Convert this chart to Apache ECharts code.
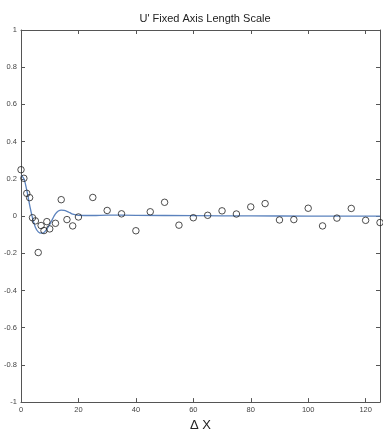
<!DOCTYPE html>
<html>
<head>
<meta charset="utf-8">
<script src="https://cdn.jsdelivr.net/npm/echarts@6/dist/echarts.min.js"></script>
<style>
  html, body { margin: 0; padding: 0; background: #fff; }
  #chart { width: 383px; height: 437px; }
</style>
</head>
<body>
<div id="chart"></div>
<script>
// Measured correlation samples (separation ΔX, correlation)
const sampleX = [0, 1, 2, 3, 4, 5, 6, 7, 8, 9, 10, 12, 14, 16, 18, 20, 25, 30, 35, 40, 45, 50, 55, 60, 65, 70, 75, 80, 85, 90, 95, 100, 105, 110, 115, 120, 125];
const sampleY = [0.249, 0.203, 0.122, 0.099, -0.009, -0.026, -0.196, -0.051, -0.078, -0.03, -0.069, -0.039, 0.088, -0.019, -0.053, -0.005, 0.1, 0.03, 0.012, -0.079, 0.023, 0.074, -0.049, -0.009, 0.004, 0.028, 0.011, 0.049, 0.067, -0.021, -0.019, 0.042, -0.053, -0.011, 0.041, -0.023, -0.035];

// Fitted length-scale curve
const fitX = [0, 1, 2, 3, 4, 5, 6, 7, 8, 9, 10, 11, 12, 13, 14, 15, 16, 17, 18, 20, 25, 30, 40, 60, 80, 100, 125];
const fitY = [0.22, 0.2, 0.14, 0.06, -0.01, -0.06, -0.085, -0.092, -0.088, -0.07, -0.045, -0.015, 0.012, 0.027, 0.032, 0.03, 0.025, 0.018, 0.01, 0.004, 0.003, 0.005, 0.004, 0.002, 0.001, 0, 0];

const xTicks = [0, 20, 40, 60, 80, 100, 120];
const yTicks = [-1, -0.8, -0.6, -0.4, -0.2, 0, 0.2, 0.4, 0.6, 0.8, 1];

const frame = { lineStyle: { color: '#555', width: 1 } };
const inTicks = { show: true, inside: true, length: 4, lineStyle: { color: '#555' } };
const labelStyle = { color: '#444', fontSize: 7.5, fontFamily: 'Liberation Sans, Arial, sans-serif' };

const chart = echarts.init(document.getElementById('chart'));
chart.setOption({
  backgroundColor: '#ffffff',
  animation: false,
  title: {
    text: "U' Fixed Axis Length Scale",
    left: 200, top: 8, textAlign: 'center',
    textStyle: { fontSize: 11, fontWeight: 'normal', color: '#222', fontFamily: 'Liberation Sans, Arial, sans-serif' }
  },
  grid: { left: 21, right: 3, top: 30, bottom: 29, containLabel: false },
  xAxis: [
    {
      type: 'value', min: 0, max: 125, interval: 20, position: 'bottom',
      name: 'Δ X', nameLocation: 'middle', nameGap: 14,
      nameTextStyle: { fontSize: 13, color: '#222', fontFamily: 'Liberation Sans, Arial, sans-serif' },
      axisLine: Object.assign({ show: true, onZero: false }, frame),
      axisTick: inTicks,
      axisLabel: Object.assign({ margin: 4, showMaxLabel: false }, labelStyle),
      splitLine: { show: false }
    },
    {
      type: 'value', min: 0, max: 125, interval: 20, position: 'top',
      axisLine: Object.assign({ show: true, onZero: false }, frame),
      axisTick: inTicks, axisLabel: { show: false }, splitLine: { show: false }
    }
  ],
  yAxis: [
    {
      type: 'value', min: -1, max: 1, interval: 0.2, position: 'left',
      axisLine: Object.assign({ show: true, onZero: false }, frame),
      axisTick: inTicks,
      axisLabel: Object.assign({ margin: 4, formatter: v => String(Math.round(v * 10) / 10) }, labelStyle),
      splitLine: { show: false }
    },
    {
      type: 'value', min: -1, max: 1, interval: 0.2, position: 'right',
      axisLine: Object.assign({ show: true, onZero: false }, frame),
      axisTick: inTicks, axisLabel: { show: false }, splitLine: { show: false }
    }
  ],
  series: [
    {
      type: 'line', name: 'fit', xAxisIndex: 0, yAxisIndex: 0,
      data: fitX.map((x, i) => [x, fitY[i]]),
      smooth: 0.4, showSymbol: false, symbol: 'none',
      lineStyle: { color: '#5b82bd', width: 1.3 }, z: 2
    },
    {
      type: 'scatter', name: 'samples', xAxisIndex: 0, yAxisIndex: 0,
      data: sampleX.map((x, i) => [x, sampleY[i]]),
      symbol: 'circle', symbolSize: 6.5,
      itemStyle: { color: 'rgba(0,0,0,0)', borderColor: '#222', borderWidth: 1 }, z: 3
    }
  ]
});
</script>
</body>
</html>
